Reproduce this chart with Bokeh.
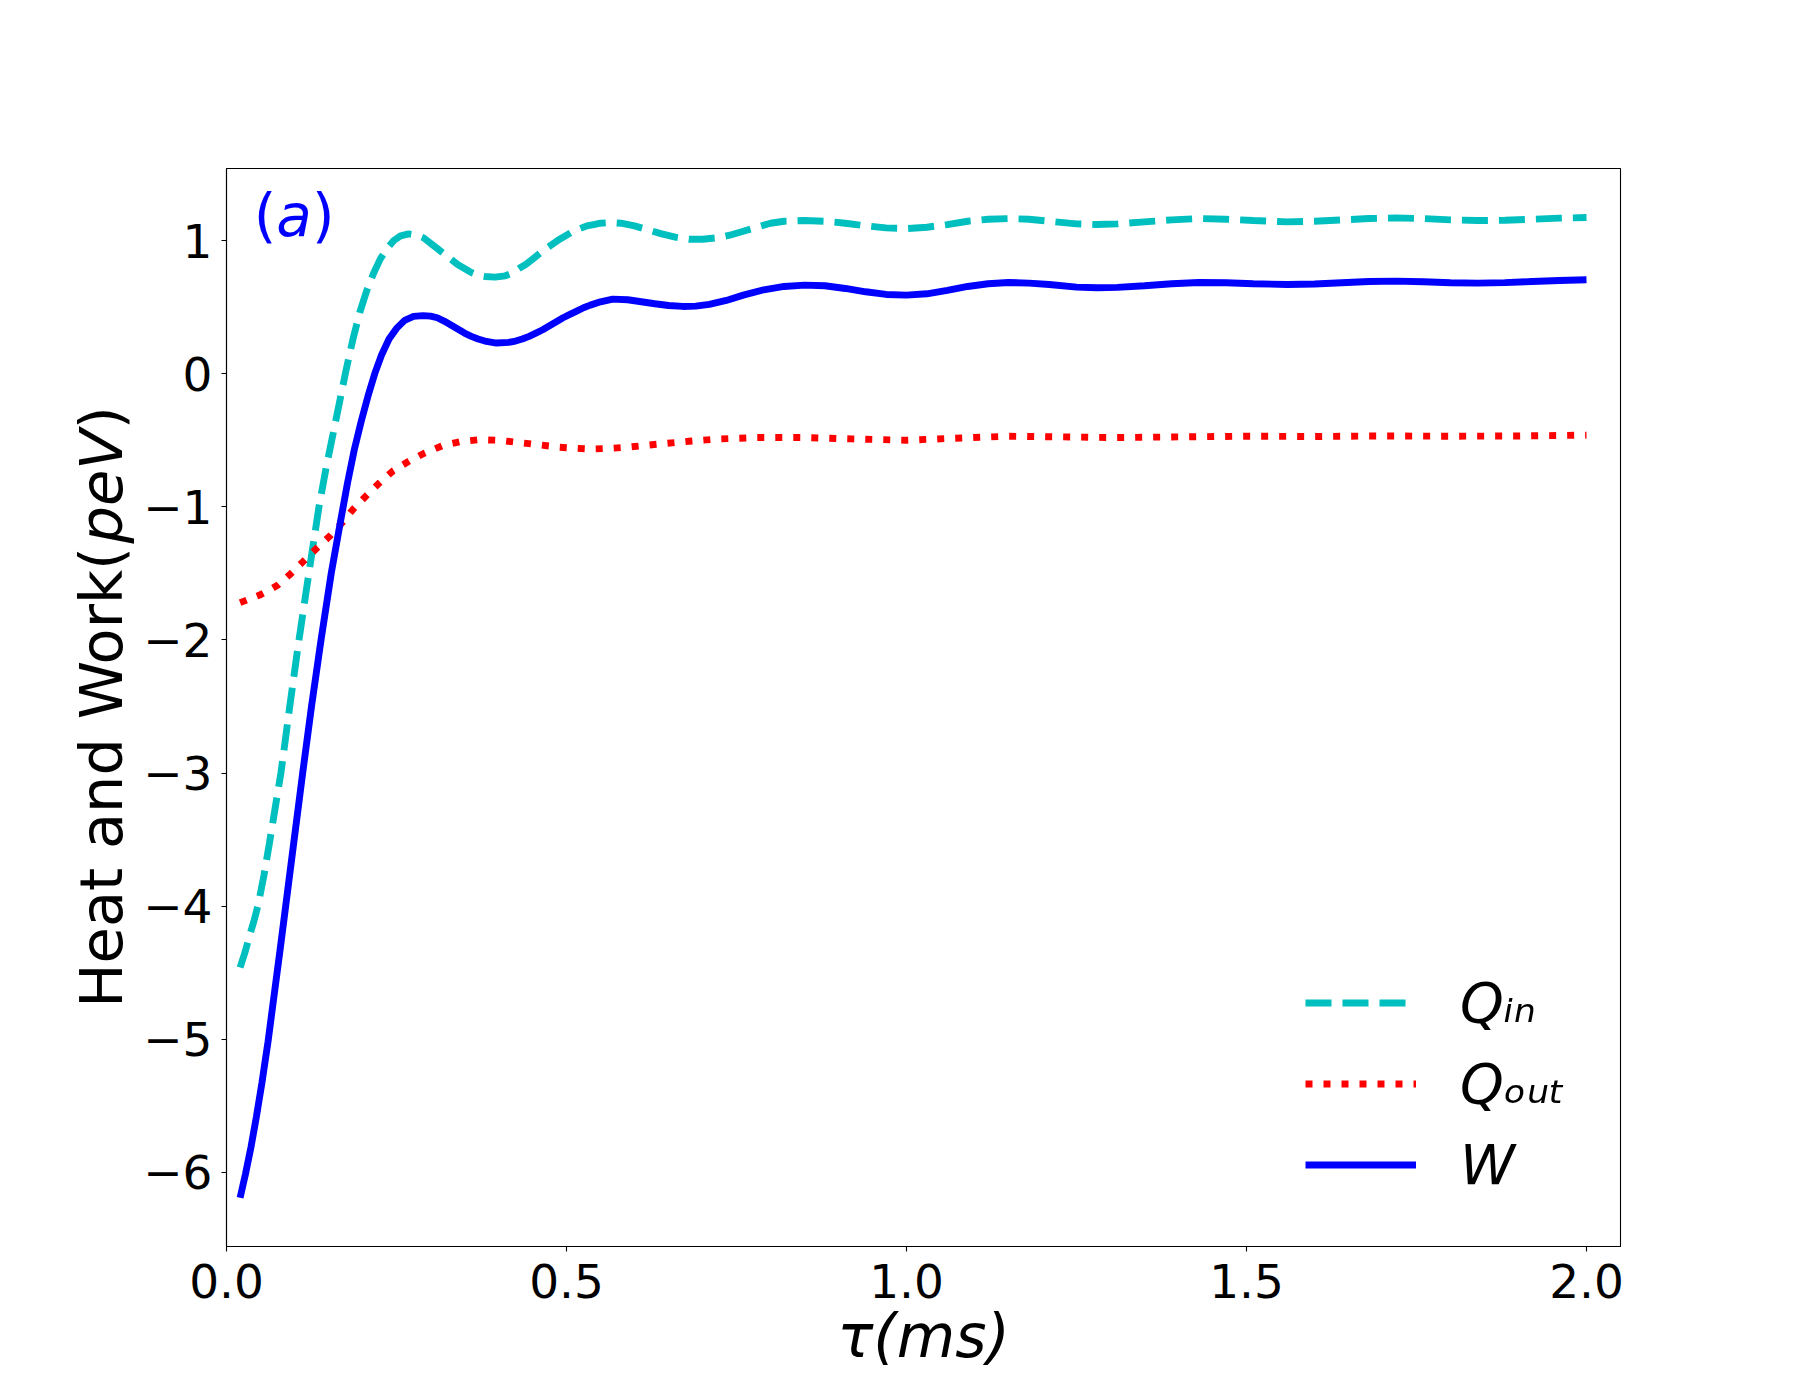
from math import pi
from bokeh.plotting import figure
from bokeh.layouts import row
from bokeh.models import Range1d, FixedTicker, Label, Legend, LegendItem
from bokeh.core.properties import value
from bokeh.embed import file_html
from bokeh.resources import INLINE

# ---------------- data ----------------
qin_x = [0.02, 0.027, 0.034, 0.041, 0.047, 0.055, 0.063, 0.071, 0.08, 0.093, 0.106,
         0.117, 0.127, 0.136, 0.146, 0.156, 0.166, 0.176, 0.186, 0.196, 0.206, 0.216,
         0.226, 0.236, 0.246, 0.256, 0.268, 0.28, 0.29, 0.30, 0.31, 0.32, 0.33,
         0.34, 0.35, 0.36, 0.37, 0.38, 0.395, 0.41, 0.42, 0.43, 0.44, 0.45, 0.46,
         0.47, 0.48, 0.49, 0.50, 0.51, 0.52, 0.53, 0.54, 0.55, 0.565, 0.58, 0.60,
         0.62, 0.64, 0.66, 0.68, 0.70, 0.72, 0.74, 0.76, 0.78, 0.80, 0.82, 0.85,
         0.88, 0.91, 0.94, 0.97, 1.00, 1.03, 1.06, 1.09, 1.12, 1.15, 1.18, 1.21,
         1.25, 1.28, 1.31, 1.35, 1.39, 1.43, 1.47, 1.51, 1.56, 1.60, 1.64, 1.68,
         1.72, 1.76, 1.80, 1.84, 1.88, 1.92, 1.96, 2.00]
qin_y = [-4.46, -4.35, -4.22, -4.10, -3.98, -3.77, -3.53, -3.28, -3.00, -2.50, -2.02,
         -1.64, -1.30, -1.00, -0.72, -0.47, -0.22, 0.03, 0.26, 0.46, 0.62, 0.75,
         0.86, 0.94, 1.00, 1.035, 1.05, 1.04, 1.02, 0.98, 0.94, 0.90, 0.86,
         0.82, 0.79, 0.76, 0.74, 0.73, 0.725, 0.735, 0.755, 0.79, 0.82, 0.86, 0.90,
         0.94, 0.975, 1.01, 1.04, 1.07, 1.09, 1.11, 1.12, 1.13, 1.135, 1.13, 1.11,
         1.08, 1.05, 1.025, 1.01, 1.01, 1.02, 1.04, 1.07, 1.10, 1.13, 1.145, 1.15,
         1.145, 1.13, 1.11, 1.095, 1.09, 1.10, 1.12, 1.145, 1.16, 1.165, 1.16, 1.145,
         1.125, 1.12, 1.125, 1.14, 1.155, 1.165, 1.16, 1.15, 1.14, 1.145, 1.155, 1.165,
         1.17, 1.165, 1.155, 1.15, 1.152, 1.16, 1.168, 1.173]

qout_x = [0.02, 0.035, 0.05, 0.065, 0.075, 0.093, 0.113, 0.133, 0.152, 0.17, 0.186,
          0.205, 0.225, 0.245, 0.269, 0.29, 0.318, 0.345, 0.372, 0.40, 0.426, 0.46,
          0.49, 0.534, 0.56, 0.588, 0.637, 0.68, 0.725, 0.78, 0.85, 0.92, 1.00,
          1.07, 1.15, 1.23, 1.30, 1.40, 1.50, 1.60, 1.70, 1.80, 1.90, 2.00]
qout_y = [-1.72, -1.69, -1.66, -1.62, -1.59, -1.51, -1.41, -1.31, -1.22, -1.12, -1.02,
          -0.92, -0.82, -0.73, -0.655, -0.60, -0.54, -0.51, -0.496, -0.50, -0.515, -0.535,
          -0.553, -0.566, -0.562, -0.553, -0.528, -0.508, -0.49, -0.48, -0.48, -0.49, -0.50,
          -0.485, -0.47, -0.475, -0.48, -0.475, -0.47, -0.472, -0.468, -0.47, -0.468, -0.462]

w_x = [0.02, 0.028, 0.036, 0.044, 0.052, 0.061, 0.07, 0.079, 0.087, 0.099, 0.112,
       0.125, 0.139, 0.154, 0.168, 0.178, 0.188, 0.198, 0.208, 0.218, 0.228, 0.239,
       0.25, 0.262, 0.275, 0.289, 0.30, 0.31, 0.32, 0.33, 0.34, 0.35, 0.36, 0.37,
       0.38, 0.397, 0.415, 0.425, 0.435, 0.445, 0.455, 0.465, 0.475, 0.485, 0.495,
       0.505, 0.515, 0.525, 0.535, 0.55, 0.568, 0.59, 0.61, 0.63, 0.65, 0.671,
       0.69, 0.71, 0.735, 0.76, 0.79, 0.82, 0.85, 0.88, 0.91, 0.94, 0.97, 1.00,
       1.03, 1.06, 1.09, 1.12, 1.15, 1.18, 1.21, 1.25, 1.28, 1.31, 1.35, 1.39,
       1.43, 1.47, 1.51, 1.56, 1.60, 1.64, 1.68, 1.72, 1.76, 1.80, 1.84, 1.88,
       1.92, 1.96, 2.00]
w_y = [-6.19, -6.01, -5.81, -5.58, -5.33, -5.02, -4.67, -4.32, -4.00, -3.52, -3.00,
       -2.50, -2.00, -1.50, -1.10, -0.82, -0.57, -0.36, -0.17, 0.00, 0.14, 0.26,
       0.34, 0.40, 0.43, 0.436, 0.432, 0.42, 0.395, 0.365, 0.335, 0.305, 0.28, 0.26,
       0.245, 0.23, 0.235, 0.245, 0.26, 0.28, 0.305, 0.33, 0.36, 0.39, 0.42,
       0.445, 0.47, 0.495, 0.515, 0.54, 0.56, 0.555, 0.54, 0.525, 0.512, 0.505,
       0.507, 0.52, 0.55, 0.59, 0.63, 0.655, 0.665, 0.66, 0.64, 0.615, 0.595, 0.59,
       0.60, 0.625, 0.655, 0.675, 0.685, 0.68, 0.67, 0.65, 0.645, 0.648, 0.66, 0.675,
       0.685, 0.683, 0.675, 0.67, 0.673, 0.683, 0.692, 0.695, 0.69, 0.683, 0.68, 0.684,
       0.692, 0.70, 0.705]

x_ticks = [0.0, 0.5, 1.0, 1.5, 2.0]
x_tick_labels = ["0.0", "0.5", "1.0", "1.5", "2.0"]
y_ticks = [-6, -5, -4, -3, -2, -1, 0, 1]
y_tick_labels = ["\u22126", "\u22125", "\u22124", "\u22123", "\u22122", "\u22121", "0", "1"]
legend_labels = ["Q\u1d62\u2099", "Q\u2092\u1d64\u209c", "W"]
series_colors = ["#00BFBF", "#FF0000", "#0000FF"]
x_title = "\u03c4(ms)"
y_title_parts = ["Heat and Work(", "peV", ")"]

FONT = "DejaVu Sans"
H = 1384
STRIP = 140
y_range = Range1d(-6.556, 1.541)

# ---------------- main plot ----------------
p = figure(width=1784 - STRIP, height=H, output_backend="svg", toolbar_location=None,
           x_range=Range1d(0, 2.05), y_range=y_range,
           min_border_left=225 - STRIP, min_border_right=164, min_border_top=168,
           min_border_bottom=138)
p.background_fill_color = "white"
p.border_fill_color = "white"
p.outline_line_color = "black"
p.outline_line_width = 1.1
p.xgrid.visible = False
p.ygrid.visible = False

for ax, ticks, labels, stand in ((p.xaxis[0], x_ticks, x_tick_labels, 12),
                                 (p.yaxis[0], y_ticks, y_tick_labels, 9)):
    ax.ticker = FixedTicker(ticks=ticks)
    ax.major_label_overrides = {t: l for t, l in zip(ticks, labels)}
    ax.major_label_text_font = FONT
    ax.major_label_text_font_size = "47px"
    ax.major_label_text_color = "black"
    ax.major_label_standoff = stand
    ax.major_tick_out = 5
    ax.major_tick_in = 0
    ax.major_tick_line_width = 1.1
    ax.major_tick_line_color = "black"
    ax.minor_tick_line_color = None
    ax.axis_line_color = "black"
    ax.axis_line_width = 1.1

p.xaxis[0].axis_label = x_title
p.xaxis[0].axis_label_text_font = FONT
p.xaxis[0].axis_label_text_font_size = "60px"
p.xaxis[0].axis_label_text_font_style = "italic"
p.xaxis[0].axis_label_text_color = "black"
p.xaxis[0].axis_label_standoff = 0

r_qin = p.line(qin_x, qin_y, line_color=series_colors[0], line_width=6.9, line_dash="26 11")
r_qout = p.line(qout_x, qout_y, line_color=series_colors[1], line_width=6.9, line_dash="7 11")
r_w = p.line(w_x, w_y, line_color=series_colors[2], line_width=6.9)

legend = Legend(items=[LegendItem(label=legend_labels[0], renderers=[r_qin]),
                       LegendItem(label=legend_labels[1], renderers=[r_qout]),
                       LegendItem(label=legend_labels[2], renderers=[r_w])],
                location=(1079, 41), orientation="vertical",
                glyph_width=111, glyph_height=81, label_height=81, spacing=0,
                padding=0, margin=0, label_standoff=44,
                label_text_font=FONT, label_text_font_style="italic",
                label_text_font_size="55.6px", label_text_color="black",
                border_line_color=None, background_fill_alpha=0)
p.add_layout(legend)

# panel tag "(a)": upright parentheses, italic a
for txt, dx, style in (("(", 0, "normal"), ("a", 22.6, "italic"), (")", 58.2, "normal")):
    p.add_layout(Label(x=0.04, y=1.185, x_offset=dx, text=txt, text_color="#0000FF",
                       text_font=FONT, text_font_size="58px", text_font_style=style,
                       text_align="left", text_baseline="alphabetic"))

# ---------------- y-axis title strip (left of the plot) ----------------
q = figure(width=STRIP, height=H, output_backend="svg", toolbar_location=None,
           x_range=Range1d(0, STRIP), y_range=y_range,
           x_axis_type=None, y_axis_type=None,
           min_border_left=0, min_border_right=0, min_border_top=168,
           min_border_bottom=138)
q.outline_line_color = None
q.background_fill_color = "white"
q.border_fill_color = "white"
q.xgrid.visible = False
q.ygrid.visible = False
for txt, yy, style in ((y_title_parts[0], -4.763, "normal"),
                       (y_title_parts[1], -1.275, "italic"),
                       (y_title_parts[2], -0.418, "normal")):
    q.text(x=[101], y=[yy], text=[txt], angle=pi / 2, text_color="black",
           text_font=value(FONT), text_font_size="59px", text_font_style=style,
           text_align="left", text_baseline="alphabetic")

layout = row(q, p)
open("out.html", "w").write(file_html(layout, INLINE))
